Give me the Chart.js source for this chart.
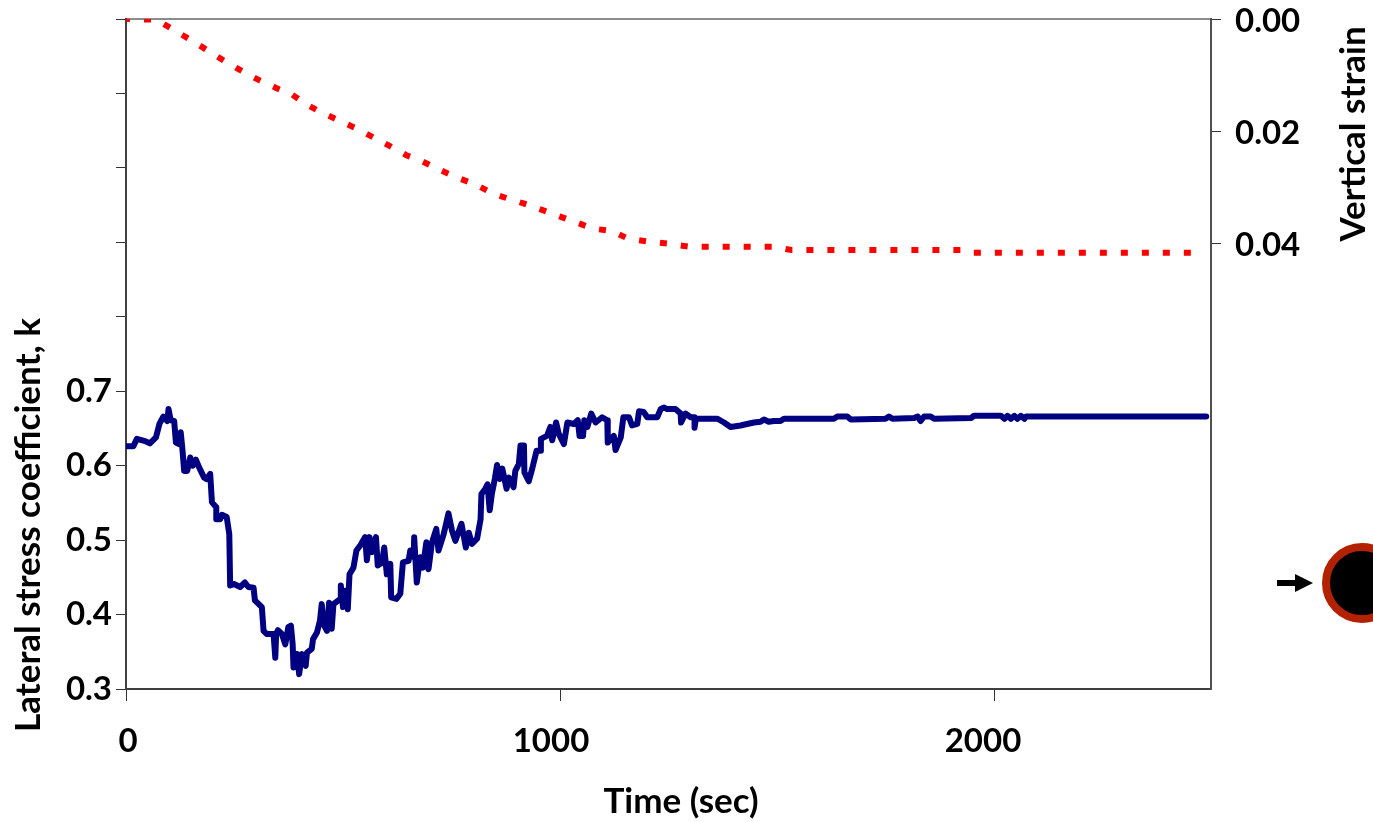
<!DOCTYPE html>
<html>
<head>
<meta charset="utf-8">
<style>
html,body{margin:0;padding:0;background:#fff;overflow:hidden}
#wrap{position:relative;width:1373px;height:822px}
canvas{display:block}
</style>
<script src="https://cdn.jsdelivr.net/npm/chart.js@4"></script>
</head>
<body>
<div id="wrap"><canvas id="c" width="1373" height="822"></canvas></div>
<script>
const kTimes = [0,17,25,44,55,69,77,86,95,98,103,111,115,122,126,130,134,141,148,154,161,169,180,186,194,198,208,208,217,221,232,238,240,249,263,274,282,294,297,313,317,324,340,344,346,350,359,367,374,380,384,386,394,399,405,414,417,428,431,440,447,451,455,463,468,474,478,494,495,500,505,511,515,524,531,540,551,555,561,567,576,580,590,595,601,609,611,623,
632,638,651,655,663,664,670,678,684,692,697,705,715,720,732,743,751,759,773,783,790,797,809,817,819,828,833,838,843,850,855,861,867,877,882,893,897,905,909,917,918,928,936,946,955,956,970,978,982,991,997,1009,1017,1032,1041,1045,1053,1056,1063,1072,1082,1097,1109,1110,1124,1128,1140,1146,1159,1166,1178,1182,1193,1201,1224,1232,1240,1247,1266,1278,1279,1289,1301,1310,1310,1313,1363,1378,1393,1416,1431,1447,1462,1470,1481,1493,1508,1516,1631,1639,1662,1670,1750,1758,1766,1816,1824,1831,1839,1854,1862,1947,1954,2016,2024,2031,2039,2047,2054,2062,2070,2074,2489];
const kValues = [.626,.626,.636,.633,.630,.638,.656,.666,.660,.676,.661,.660,.631,.629,.645,.622,.593,.593,.611,.600,.608,.597,.584,.582,.589,.551,.544,.528,.528,.534,.531,.508,.439,.441,.437,.443,.437,.436,.419,.410,.378,.374,.374,.342,.374,.379,.374,.360,.383,.385,.360,.329,.347,.320,.347,.331,.349,.354,.367,.376,.392,.414,.387,.378,.416,.381,.414,.421,.439,.410,.432,.407,.454,.463,.486,.493,.504,.473,.504,.484,.504,.466,.470,.490,.454,.468,.423,.421,
.428,.470,.472,.486,.477,.504,.443,.477,.463,.497,.461,.497,.515,.486,.508,.536,.513,.499,.522,.490,.510,.495,.502,.528,.562,.569,.575,.540,.562,.583,.601,.582,.596,.569,.584,.571,.593,.602,.627,.627,.591,.579,.596,.620,.620,.636,.640,.652,.634,.658,.643,.629,.658,.656,.661,.640,.640,.661,.652,.670,.658,.665,.661,.631,.640,.621,.638,.665,.665,.654,.656,.673,.672,.665,.665,.676,.678,.676,.676,.670,.658,.670,.665,.665,.651,.663,.663,.658,.652,.654,.656,.658,.659,.662,.659,.660,.660,.663,.663,.666,.666,.662,.663,.666,.663,.664,.666,.660,.666,.666,.663,.664,.667,.667,.663,.667,.663,.667,.663,.667,.663,.666,.666];
const strainTimes = [0,48,67,85,120,159,196,233,270,309,346,383,417,454,494,533,570,604,646,683,720,763,805,844,879,916,957,999,1038,1077,1119,1158,1204,1252,1296,1345,1488,1534,1930,1946,2484];
const strainValues = [0,.0001,.0001,.0008,.0024,.0042,.0060,.0078,.0094,.0110,.0123,.0135,.0153,.0168,.0182,.0196,.0211,.0225,.0243,.0254,.0268,.0283,.0295,.0311,.0320,.0329,.0340,.0352,.0363,.0374,.0378,.0392,.0397,.0401,.0406,.0406,.0406,.0412,.0412,.0417,.0417];
const xTickValues = [0,1000,2000];
const kTickLabels = ['0.3','0.4','0.5','0.6','0.7'];
const strainTickLabels = ['0.00','0.02','0.04'];
const xTitle = 'Time (sec)';
const kTitle = 'Lateral stress coefficient, k';
const strainTitle = 'Vertical strain';
const FONT = 'Lato, "Open Sans", sans-serif';
const xLabelShift = [2,-9,-11];
const y2LabelShift = 2;

const overlay = {
  id:'overlay',
  beforeDraw(chart){
    const s = chart.scales.x;
    s._labelItems = s._computeLabelItems(chart.chartArea);
    s._labelItems.forEach((it,i)=>{ it.options.translation = [it.options.translation[0]+(xLabelShift[i]||0), it.options.translation[1]]; });
    const r = chart.scales.y2;
    r._labelItems = r._computeLabelItems(chart.chartArea);
    r._labelItems.forEach(it=>{ it.options.translation = [it.options.translation[0], it.options.translation[1]+y2LabelShift]; });
  },
  afterDraw(chart){
    const c = chart.ctx;
    c.save();
    c.fillStyle='#000';
    c.textAlign='center';
    c.textBaseline='alphabetic';
    c.font='bold 35px '+FONT;
    c.fillText(xTitle,681,813);
    c.save();c.translate(40,525);c.rotate(-Math.PI/2);c.fillText(kTitle,0,0);c.restore();
    c.save();c.translate(1365,134);c.rotate(-Math.PI/2);c.fillText(strainTitle,0,0);c.restore();
    // marker: arrow and ring
    c.fillStyle='#000';
    c.fillRect(1277,580,20,6);
    c.beginPath();c.moveTo(1295,574);c.lineTo(1313,583);c.lineTo(1295,592);c.closePath();c.fill();
    c.beginPath();c.arc(1362,583,36,0,Math.PI*2);c.fillStyle='#000';c.fill();
    c.lineWidth=8;c.strokeStyle='#b22200';c.stroke();
    c.restore();
  }
};
const noPad = s => { s.paddingTop=0; s.paddingBottom=0; s.paddingLeft=0; s.paddingRight=0; };

new Chart(document.getElementById('c'),{
  type:'line',
  data:{datasets:[
    {label:'k',yAxisID:'y',data:kTimes.map((t,i)=>({x:t,y:kValues[i]})),borderColor:'#000080',borderWidth:6,pointRadius:0,tension:0,fill:false,borderJoinStyle:'round',borderCapStyle:'round'},
    {label:'strain',yAxisID:'y2',data:strainTimes.map((t,i)=>({x:t,y:strainValues[i]})),borderColor:'#ff0000',borderWidth:6,pointRadius:0,tension:0,fill:false,borderDash:[7,14],borderDashOffset:3,borderCapStyle:'butt',borderJoinStyle:'miter'}
  ]},
  options:{
    responsive:false,animation:false,
    layout:{padding:0,autoPadding:false},
    plugins:{legend:{display:false},title:{display:false},tooltip:{enabled:false}},
    scales:{
      x:{type:'linear',position:'bottom',min:0,max:2500,
        afterBuildTicks:s=>{s.ticks=xTickValues.map(v=>({value:v}));},
        afterFit:s=>{s.height=133;noPad(s);},
        border:{display:true,color:'#404040',width:2},
        grid:{drawOnChartArea:false,drawTicks:true,tickLength:12,tickColor:'#333',tickWidth:1},
        ticks:{color:'#000',font:{family:FONT,size:33,weight:'bold'},padding:21,maxRotation:0,autoSkip:false,callback:v=>String(v)}},
      xTop:{type:'linear',position:'top',min:0,max:2500,
        afterFit:s=>{s.height=19;noPad(s);},
        border:{display:true,color:'#8c8c8c',width:2},
        grid:{drawOnChartArea:false,drawTicks:false},
        ticks:{display:false}},
      y:{type:'linear',position:'left',min:0.3,max:1.2,
        afterBuildTicks:s=>{s.ticks=[.3,.4,.5,.6,.7,.8,.9,1,1.1,1.2].map(v=>({value:v}));},
        afterFit:s=>{s.width=126;noPad(s);},
        border:{display:true,color:'#404040',width:2},
        grid:{drawOnChartArea:false,drawTicks:true,tickLength:10,tickColor:'#333',tickWidth:1},
        ticks:{color:'#000',font:{family:FONT,size:33,weight:'bold'},padding:4,autoSkip:false,callback:(v,i)=>kTickLabels[i]||''}},
      y2:{type:'linear',position:'right',min:0,max:0.1195,reverse:true,
        afterBuildTicks:s=>{s.ticks=[0,.02,.04].map(v=>({value:v}));},
        afterFit:s=>{s.width=162;noPad(s);},
        border:{display:true,color:'#505050',width:2},
        grid:{drawOnChartArea:false,drawTicks:true,tickLength:10,tickColor:'#333',tickWidth:1},
        ticks:{color:'#000',font:{family:FONT,size:33,weight:'bold'},padding:14,autoSkip:false,callback:(v,i)=>strainTickLabels[i]}}
    }
  },
  plugins:[overlay]
});
</script>
</body>
</html>
